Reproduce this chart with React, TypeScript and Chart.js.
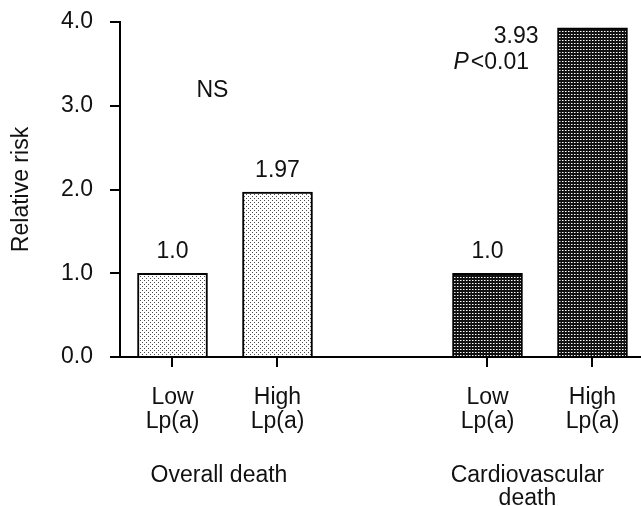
import React, { useEffect, useRef } from "react";
import { Chart, registerables } from "chart.js";

Chart.register(...registerables);

// ---- data ----
const categoryPositions = [1, 2, 4, 5];
const categoryLabels = [
  ["Low", "Lp(a)"],
  ["High", "Lp(a)"],
  ["Low", "Lp(a)"],
  ["High", "Lp(a)"],
];
const relativeRisk = [1.0, 1.97, 1.0, 3.93];
const valueLabels = ["1.0", "1.97", "1.0", "3.93"];
const groupLabels = [["Overall death"], ["Cardiovascular", "death"]];
const groupPositions = [1.443, 4.38];
const yTickValues = [0, 1, 2, 3, 4];
const notes = [
  { italic: "", text: "NS", x: 1.38, y: 3.11, align: "center" },
  { italic: "P", text: "<0.01", x: 4.395, y: 3.44, align: "right" },
];

const FONT = '"Liberation Sans", Arial, Helvetica, sans-serif';
const INK = "#111";
const FS = 23;
const PLOT_TOP = 22;

function makePattern(
  bg: string,
  w: number,
  h: number,
  dots: Array<[number, number, string]>
) {
  const c = document.createElement("canvas");
  c.width = w;
  c.height = h;
  const g = c.getContext("2d")!;
  g.fillStyle = bg;
  g.fillRect(0, 0, w, h);
  dots.forEach(([x, y, col]) => {
    g.fillStyle = col;
    g.fillRect(x, y, 1, 1);
  });
  return g.createPattern(c, "repeat")!;
}

const fixTopPlugin = {
  id: "fixTop",
  afterLayout(chart: any) {
    const ca = chart.chartArea;
    const ys = chart.scales.y;
    ca.top = PLOT_TOP;
    ca.height = ca.bottom - ca.top;
    ys.top = PLOT_TOP;
    ys.height = ys.bottom - ys.top;
    ys.configure();
  },
};

const annotationPlugin = {
  id: "annotations",
  afterDatasetsDraw(chart: any) {
    const ctx: CanvasRenderingContext2D = chart.ctx;
    const xs = chart.scales.x;
    const ys = chart.scales.y;
    const area = chart.chartArea;
    ctx.save();
    ctx.fillStyle = INK;
    ctx.font = `${FS}px ${FONT}`;
    ctx.textBaseline = "alphabetic";

    // value labels
    const meta = chart.getDatasetMeta(0);
    meta.data.forEach((bar: any, i: number) => {
      const top = bar.y;
      if (top - 40 < area.top) {
        ctx.textAlign = "right";
        ctx.fillText(valueLabels[i], bar.x - bar.width / 2 - 19, top + 15);
      } else {
        ctx.textAlign = "center";
        ctx.fillText(valueLabels[i], bar.x, top - 15);
      }
    });

    // notes
    notes.forEach((n) => {
      const px = xs.getPixelForValue(n.x);
      const py = ys.getPixelForValue(n.y);
      ctx.font = `${FS}px ${FONT}`;
      const wText = ctx.measureText(n.text).width;
      ctx.font = `italic ${FS}px ${FONT}`;
      const wIt = n.italic ? ctx.measureText(n.italic).width + 2 : 0;
      const total = wText + wIt;
      let left = px;
      if (n.align === "center") left = px - total / 2;
      else if (n.align === "right") left = px - total;
      ctx.textAlign = "left";
      if (n.italic) {
        ctx.font = `italic ${FS}px ${FONT}`;
        ctx.fillText(n.italic, left, py);
      }
      ctx.font = `${FS}px ${FONT}`;
      ctx.fillText(n.text, left + wIt, py);
    });

    // group labels
    ctx.font = `${FS}px ${FONT}`;
    ctx.textAlign = "center";
    groupLabels.forEach((lines, gi) => {
      const px = xs.getPixelForValue(groupPositions[gi]);
      lines.forEach((line, li) => {
        ctx.fillText(line, px, area.bottom + 125 + li * 22.5);
      });
    });
    ctx.restore();
  },
};

export default function App() {
  const ref = useRef<HTMLCanvasElement | null>(null);

  useEffect(() => {
    const canvas = ref.current;
    if (!canvas) return;
    const light = makePattern("#ffffff", 4, 4, [
      [0, 0, "#4a4a4a"],
      [2, 2, "#4a4a4a"],
    ]);
    const dark = makePattern("#111111", 3, 3, [
      [1, 1, "#ffffff"],
      [2, 1, "#888888"],
    ]);

    const chart = new Chart(canvas, {
      type: "bar",
      data: {
        datasets: [
          {
            data: categoryPositions.map((x, i) => ({ x, y: relativeRisk[i] })) as any,
            backgroundColor: [light, light, dark, dark] as any,
            borderColor: "#000",
            borderWidth: 2,
            barThickness: 70,
          },
        ],
      },
      options: {
        responsive: false,
        animation: false,
        devicePixelRatio: 1,
        layout: {
          padding: { top: 22, left: 0, right: 0, bottom: 0 },
        },
        plugins: {
          legend: { display: false },
          tooltip: { enabled: false },
        },
        scales: {
          x: {
            type: "linear",
            offset: false,
            min: 0.5,
            max: 5.462,
            afterFit: (s: any) => {
              s.height = 149;
            },
            afterBuildTicks: (s: any) => {
              s.ticks = categoryPositions.map((v) => ({ value: v }));
            },
            ticks: {
              font: { family: FONT, size: FS, lineHeight: 1.04 },
              color: INK,
              padding: 19,
              maxRotation: 0,
              autoSkip: false,
              callback: (v: any) => {
                const idx = categoryPositions.indexOf(Number(v));
                return idx >= 0 ? categoryLabels[idx] : "";
              },
            },
            grid: {
              offset: false,
              drawOnChartArea: false,
              drawTicks: true,
              tickLength: 10,
              color: "#000",
              lineWidth: 2,
            },
            border: { color: "#000", width: 2 },
          },
          y: {
            min: 0,
            max: 4,
            afterFit: (s: any) => {
              s.width = 120;
            },
            afterBuildTicks: (s: any) => {
              s.ticks = yTickValues.map((v) => ({ value: v }));
            },
            ticks: {
              font: { family: FONT, size: FS },
              color: INK,
              padding: 17,
              callback: (v: any) => Number(v).toFixed(1),
            },
            grid: {
              drawOnChartArea: false,
              drawTicks: true,
              tickLength: 10,
              color: "#000",
              lineWidth: 2,
            },
            border: { color: "#000", width: 2 },
            title: {
              display: true,
              text: "Relative risk",
              color: INK,
              font: { family: FONT, size: FS, lineHeight: 1.2 },
              padding: { top: 8, bottom: 0 },
            },
          },
        },
      },
      plugins: [fixTopPlugin, annotationPlugin],
    });
    return () => chart.destroy();
  }, []);

  return (
    <div
      style={{
        position: "fixed",
        left: 0,
        top: 0,
        width: 641,
        height: 506,
        background: "#fff",
      }}
    >
      <canvas ref={ref} width={641} height={506} style={{ display: "block" }} />
    </div>
  );
}
